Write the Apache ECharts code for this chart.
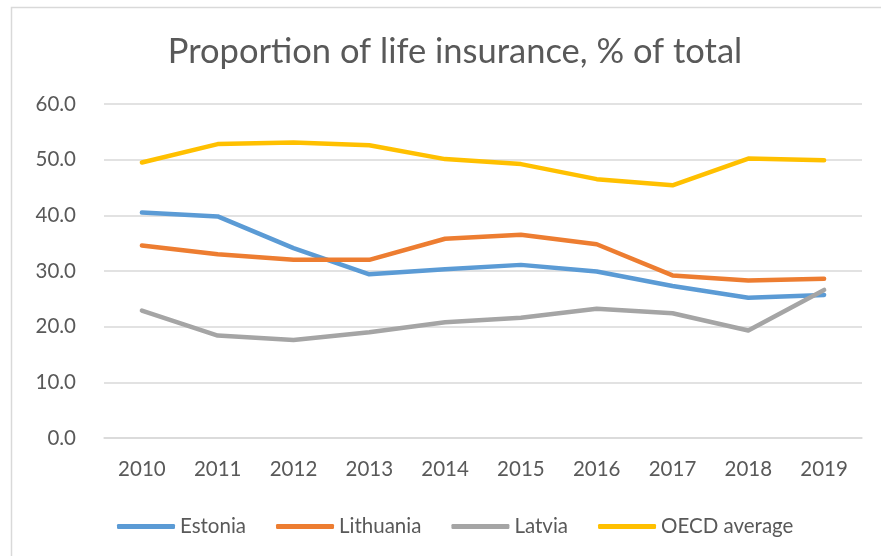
<!DOCTYPE html>
<html>
<head>
<meta charset="utf-8">
<title>Proportion of life insurance</title>
<script src="https://cdn.jsdelivr.net/npm/echarts@6/dist/echarts.min.js"></script>
<style>
  html, body { margin: 0; padding: 0; background: #fff; }
  #chart { width: 881px; height: 556px; }
</style>
</head>
<body>
<div id="chart"></div>
<script>
    // data
    var years = ['2010','2011','2012','2013','2014','2015','2016','2017','2018','2019'];
    var estonia    = [40.5, 39.8, 34.1, 29.4, 30.3, 31.1, 29.9, 27.3, 25.2, 25.7];
    var lithuania  = [34.6, 33.0, 32.0, 32.0, 35.8, 36.5, 34.8, 29.2, 28.3, 28.6];
    var latvia     = [22.9, 18.4, 17.6, 19.0, 20.8, 21.6, 23.2, 22.4, 19.3, 26.6];
    var oecd       = [49.5, 52.8, 53.1, 52.6, 50.1, 49.2, 46.5, 45.4, 50.2, 49.9];

    var txt = '#595959';
    var font = 'Lato, "Open Sans", sans-serif';

    function line(name, data, color) {
        return {
            name: name,
            type: 'line',
            data: data,
            symbol: 'none',
            smooth: false,
            lineStyle: { color: color, width: 4.5, cap: 'round', join: 'round' },
            itemStyle: { color: color }
        };
    }

    var chart = echarts.init(document.getElementById('chart'), null, { renderer: 'canvas' });
    chart.setOption({
        animation: false,
        backgroundColor: '#fff',
        title: {
            text: 'Proportion of life insurance, % of total',
            left: 450,
            top: 29,
            textAlign: 'center',
            textStyle: { color: txt, fontSize: 34.5, fontWeight: 'normal', fontFamily: font }
        },
        graphic: [{
            type: 'rect',
            shape: { x: 11.5, y: 7.5, width: 880, height: 570 },
            style: { fill: null, stroke: '#d9d9d9', lineWidth: 1.5 },
            silent: true
        }],
        legend: {
            left: 112,
            top: 511,
            itemWidth: 58,
            itemHeight: 5,
            itemGap: 30,
            icon: 'roundRect',
            textStyle: { color: txt, fontSize: 20.5, fontFamily: font },
            data: ['Estonia', 'Lithuania', 'Latvia', 'OECD average']
        },
        grid: { left: 104, right: 19, top: 104, bottom: 118, containLabel: false },
        xAxis: {
            type: 'category',
            data: years,
            boundaryGap: true,
            axisLine: { lineStyle: { color: '#d9d9d9', width: 1.5 } },
            axisTick: { show: false },
            axisLabel: { color: txt, fontSize: 20.5, fontFamily: font, margin: 21 }
        },
        yAxis: {
            type: 'value',
            min: 0,
            max: 60,
            interval: 10,
            axisLine: { show: false },
            axisTick: { show: false },
            splitLine: { lineStyle: { color: '#d9d9d9', width: 1.5 } },
            axisLabel: {
                color: txt, fontSize: 20.5, fontFamily: font, margin: 28,
                formatter: function (v) { return v.toFixed(1); }
            }
        },
        series: [
            line('Estonia', estonia, '#5B9BD5'),
            line('Lithuania', lithuania, '#ED7D31'),
            line('Latvia', latvia, '#A5A5A5'),
            line('OECD average', oecd, '#FFC000')
        ]
    });
</script>
</body>
</html>
